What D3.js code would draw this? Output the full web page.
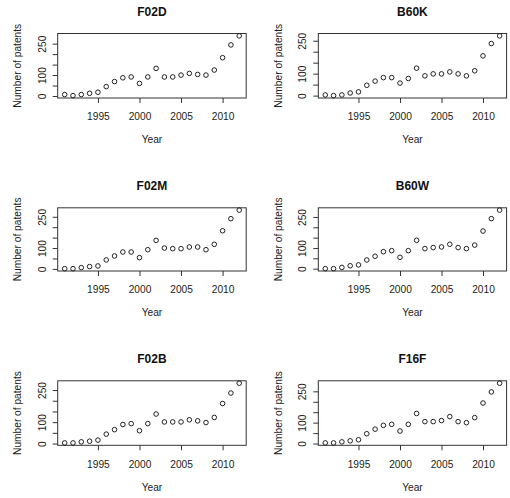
<!DOCTYPE html>
<html>
<head>
<meta charset="utf-8">
<script src="https://cdn.jsdelivr.net/npm/d3@7"></script>
<style>
  body { margin: 0; background: #fff; }
  svg { display: block; font-family: "Liberation Sans", Arial, sans-serif; }
  .tick line { stroke: #333; }
  .tick text { fill: #222; font-size: 10.2px; }
  .box { fill: none; stroke: #333; stroke-width: 1; }
  .pt { fill: none; stroke: #222; stroke-width: 1; }
</style>
</head>
<body>
<svg id="chart" width="510" height="498"></svg>
<script>
// ---- data ----
const years = [1991, 1992, 1993, 1994, 1995, 1996, 1997, 1998, 1999, 2000, 2001,
               2002, 2003, 2004, 2005, 2006, 2007, 2008, 2009, 2010, 2011, 2012];

const panelTitles = ['F02D', 'B60K', 'F02M', 'B60W', 'F02B', 'F16F'];

const f02d = [7, 2, 7, 13, 18, 45, 69, 87, 91, 60, 91, 132, 91, 91, 100, 108, 103, 100, 124, 183, 244, 287];
const b60k = [3, 0, 3, 12, 17, 47, 66, 82, 82, 57, 78, 125, 90, 99, 99, 108, 99, 90, 113, 181, 237, 272];
const f02m = [1, 1, 6, 11, 14, 43, 62, 81, 81, 54, 92, 137, 100, 97, 97, 105, 105, 92, 118, 183, 241, 282];
const b60w = [0, 0, 6, 14, 18, 42, 60, 82, 87, 55, 87, 137, 97, 102, 105, 118, 102, 97, 114, 182, 242, 283];
const f02b = [3, 3, 8, 11, 16, 44, 65, 89, 93, 60, 93, 138, 101, 101, 101, 111, 106, 98, 122, 187, 236, 282];
const f16f = [3, 3, 8, 13, 18, 47, 69, 87, 92, 60, 92, 144, 105, 105, 110, 129, 105, 100, 124, 194, 247, 289];

const panelSeries = [f02d, b60k, f02m, b60w, f02b, f16f];

const xTicks = [1995, 2000, 2005, 2010];
const yTicks = [0, 50, 100, 150, 200, 250];
const yTickLabels = [0, 100, 250];   // R drops the crowded ones

const xTitle = 'Year';
const yTitle = 'Number of patents';

const colX = [[57.7, 246.2], [318.3, 506.6]];
const rowY = [[33.5, 98], [207.8, 271], [380.8, 445.3]];

const svg = d3.select('#chart');

// R-style range: data extent padded by 4% each side
function padded(ext) {
  const r = ext[1] - ext[0];
  return [ext[0] - 0.04 * r, ext[1] + 0.04 * r];
}

panelSeries.forEach((vals, i) => {
  const [x0, x1] = colX[i % 2];
  const [y0, y1] = rowY[Math.floor(i / 2)];

  const x = d3.scaleLinear().domain(padded(d3.extent(years))).range([x0, x1]);
  const y = d3.scaleLinear().domain(padded(d3.extent(vals))).range([y1, y0]);

  const g = svg.append('g');

  // x axis
  g.append('g')
    .attr('transform', `translate(0,${y1})`)
    .call(d3.axisBottom(x).tickValues(xTicks).tickSize(5).tickPadding(10)
      .tickFormat(d3.format('d')))
    .call(a => a.select('.domain').remove())
    .call(a => a.selectAll('text').attr('font-family', null).attr('font-size', null));

  // y axis, labels parallel to the axis
  g.append('g')
    .attr('transform', `translate(${x0},0)`)
    .call(d3.axisLeft(y).tickValues(yTicks).tickSize(5)
      .tickFormat(d => yTickLabels.includes(d) ? d : ''))
    .call(a => a.select('.domain').remove())
    .call(a => a.selectAll('text')
      .attr('font-family', null).attr('font-size', null)
      .attr('transform', 'rotate(-90)')
      .attr('x', 0).attr('y', -12.2).attr('dy', 0)
      .attr('text-anchor', 'middle'));

  g.append('rect').attr('class', 'box')
    .attr('x', x0).attr('y', y0)
    .attr('width', x1 - x0).attr('height', y1 - y0);

  g.selectAll('circle.pt')
    .data(vals)
    .join('circle')
    .attr('class', 'pt')
    .attr('cx', (d, j) => x(years[j]))
    .attr('cy', d => y(d))
    .attr('r', 2.3);

  const cx = (x0 + x1) / 2;

  g.append('text')
    .attr('x', cx).attr('y', y0 - 17.7)
    .attr('text-anchor', 'middle')
    .attr('font-size', 12).attr('font-weight', 'bold').attr('fill', '#111')
    .text(panelTitles[i]);

  g.append('text')
    .attr('x', cx).attr('y', y1 + 45.3)
    .attr('text-anchor', 'middle')
    .attr('font-size', 10.2).attr('fill', '#222')
    .text(xTitle);

  g.append('text')
    .attr('transform', `translate(${x0 - 36.7},${(y0 + y1) / 2}) rotate(-90)`)
    .attr('text-anchor', 'middle')
    .attr('font-size', 10.2).attr('fill', '#222')
    .text(yTitle);
});
</script>
</body>
</html>
